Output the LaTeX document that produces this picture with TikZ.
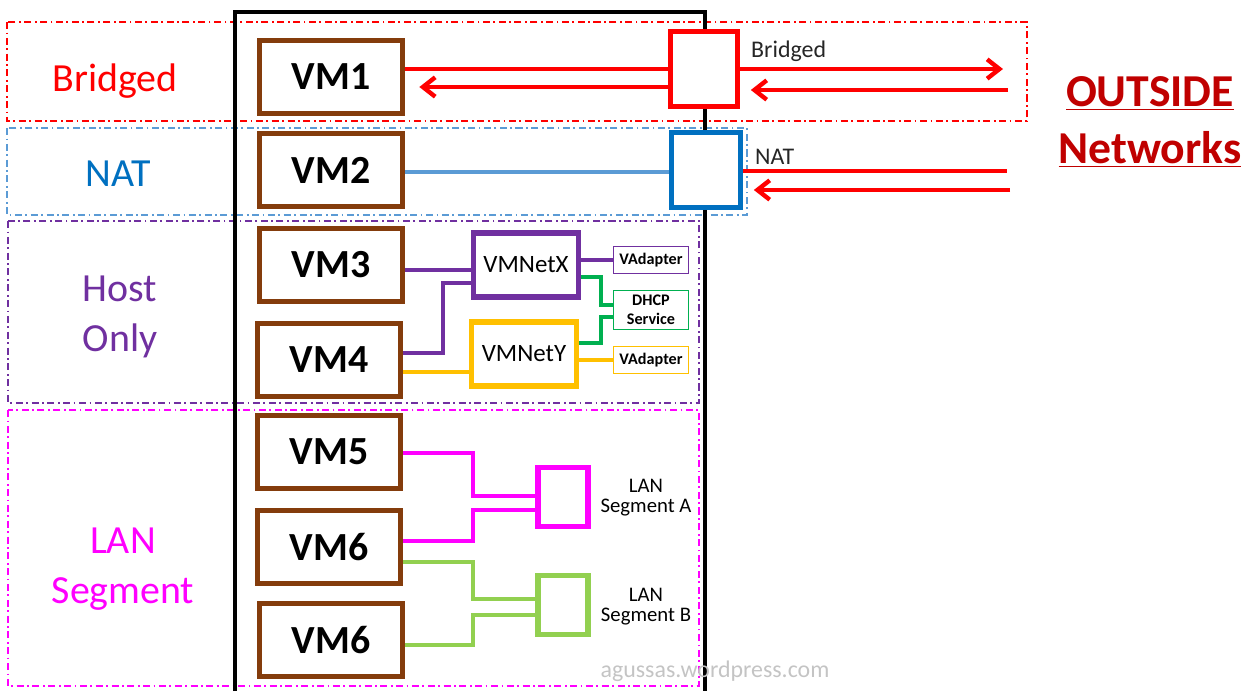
\documentclass[tikz,border=0pt]{standalone}
\usepackage{fontspec}
\setmainfont{Carlito}
\usetikzlibrary{arrows.meta}
\definecolor{vmbrown}{HTML}{843C0C}
\definecolor{natblue}{HTML}{0070C0}
\definecolor{natline}{HTML}{5B9BD5}
\definecolor{hostpurple}{HTML}{7030A0}
\definecolor{hostyellow}{HTML}{FFC000}
\definecolor{dhcpgreen}{HTML}{00B050}
\definecolor{lanmagenta}{HTML}{FF00FF}
\definecolor{langreen}{HTML}{92D050}
\definecolor{darkred}{HTML}{C00000}
\definecolor{mark}{HTML}{C4C4C4}
\begin{document}
\begin{tikzpicture}[x=0.02cm,y=-0.02cm,>={Straight Barb[length=7pt,width=11pt]}]
	\tikzstyle{zone} = [dash pattern=on 4pt off 2pt on 1pt off 2pt, line width=0.6pt]
	\tikzstyle{modetext} = [align=center, font=\fontsize{22.7}{28.4}\selectfont]
	\tikzstyle{vm} = [draw=vmbrown, fill=white, line width=3.2pt, minimum width=2.86cm, minimum height=1.46cm, inner sep=0pt, font=\fontsize{22.7}{24}\selectfont\bfseries]
	\tikzstyle{switch} = [draw, fill=white, line width=3.2pt, inner sep=0pt]
	\tikzstyle{net} = [switch, minimum width=2.1cm, minimum height=1.28cm, font=\fontsize{14.2}{16}\selectfont]
	\tikzstyle{small} = [draw, fill=white, line width=1.1pt, inner sep=0pt, minimum width=1.5cm, align=center, font=\fontsize{9.2}{10.8}\selectfont\bfseries]
	\tikzstyle{wire} = [line width=2.3pt]
	\tikzstyle{ext} = [red, line width=2.5pt]
	\tikzstyle{segtext} = [align=center, font=\fontsize{11.8}{11.4}\selectfont]
	\useasboundingbox (0,0) rectangle (1245,691);
	\draw[zone, red] (7,22) rectangle (1027,121);
	\draw[zone, natline] (7,128) rectangle (747,215);
	\draw[zone, hostpurple] (8,221) rectangle (699,403);
	\draw[zone, lanmagenta] (8,410) rectangle (699,686);
	\draw[line width=2.8pt] (235,691) -- (235,12) -- (705,12) -- (705,691);
	\node[modetext, red] (mBridged) at (115,81) {Bridged};
	\node[modetext, natblue] (mNat) at (118,174) {NAT};
	\node[modetext, hostpurple] (mHost) at (120,317) {Host\\Only};
	\node[modetext, lanmagenta] (mLan) at (123,569) {LAN\\Segment};
	\node[vm] (vm1) at (331,77) {VM1};
	\node[vm] (vm2) at (331,170) {VM2};
	\node[vm] (vm3) at (331,265) {VM3};
	\node[vm] (vm4) at (329,360) {VM4};
	\node[vm] (vm5) at (329,452) {VM5};
	\node[vm] (vm6) at (329,547) {VM6};
	\node[vm] (vm7) at (331,640) {VM6};
	\node[switch, draw=red, minimum width=1.34cm, minimum height=1.5cm] (bridge) at (704,69) {};
	\node[switch, draw=natblue, minimum width=1.38cm, minimum height=1.5cm] (nat) at (706,170) {};
	\node[anchor=west, font=\fontsize{13.6}{15}\selectfont, text=black!85] (tBridged) at (745,51) {Bridged};
	\node[anchor=west, font=\fontsize{13.6}{15}\selectfont, text=black!85] (tNat) at (749,157) {NAT};
	\node[align=center, text=darkred, font=\fontsize{26}{32}\selectfont\bfseries] (outside) at (1150,122) {\underline{OUTSIDE}\\\underline{Networks}};
	\coordinate (bOut) at (1003,69);
	\coordinate (bIn) at (1008,90);
	\coordinate (nOut) at (1007,171);
	\coordinate (nIn) at (1010,190);
	\draw[ext] (bridge.west) -- (bridge.west -| vm1.east);
	\draw[ext,->,shorten >=8pt] ([yshift=-0.36cm]bridge.west) -- ([yshift=-0.36cm]bridge.west -| vm1.east);
	\draw[ext,->] (bridge.east) -- (bOut);
	\draw[ext,->,shorten >=6pt] (bIn) -- (bIn -| bridge.east);
	\draw[ext] (nat.east |- nOut) -- (nOut);
	\draw[ext,->,shorten >=6pt] (nIn) -- (nIn -| nat.east);
	\draw[wire, natline] ([yshift=-0.04cm]vm2.east) -- ([yshift=-0.04cm]nat.west);
	\node[net, draw=hostpurple] (vmx) at (526,265) {VMNetX};
	\node[net, draw=hostyellow] (vmy) at (524,354) {VMNetY};
	\node[small, draw=hostpurple, minimum height=0.54cm] (vax) at (651,260) {VAdapter};
	\node[small, draw=dhcpgreen, minimum height=0.78cm] (dhcp) at (651,310) {DHCP\\Service};
	\node[small, draw=hostyellow, minimum height=0.54cm] (vay) at (651,360) {VAdapter};
	\draw[wire, hostpurple] ([yshift=-0.1cm]vm3.east) -- ([yshift=-0.1cm]vm3.east -| vmx.west);
	\draw[wire, hostpurple] ([yshift=0.14cm]vm4.east) -- ++(40,0) |- ([yshift=-0.36cm]vmx.west);
	\draw[wire, hostyellow] ([yshift=-0.24cm]vm4.east) -- ([yshift=-0.24cm]vm4.east -| vmy.west);
	\draw[wire, hostpurple] (vax.west) -- (vax.west -| vmx.east);
	\draw[wire, dhcpgreen] ([yshift=-0.24cm]vmx.east) -- ++(20,0) |- ([yshift=0.1cm]dhcp.west);
	\draw[wire, dhcpgreen] ([yshift=0.22cm]vmy.east) -- ++(22,0) |- ([yshift=-0.14cm]dhcp.west);
	\draw[wire, hostyellow] (vay.west) -- (vay.west -| vmy.east);
	\node[switch, draw=lanmagenta, minimum width=1cm, minimum height=1.18cm] (lanA) at (563,497) {};
	\node[switch, draw=langreen, minimum width=1cm, minimum height=1.18cm] (lanB) at (563,605) {};
	\node[segtext] (tLanA) at (646,498) {LAN\\Segment A};
	\node[segtext] (tLanB) at (646,607) {LAN\\Segment B};
	\draw[wire, lanmagenta] ([yshift=-0.02cm]vm5.east) -- ++(70,0) |- ([yshift=0.02cm]lanA.west);
	\draw[wire, lanmagenta] ([yshift=0.12cm]vm6.east) -- ++(70,0) |- ([yshift=-0.26cm]lanA.west);
	\draw[wire, langreen] ([yshift=-0.3cm]vm6.east) -- ++(70,0) |- ([yshift=0.12cm]lanB.west);
	\draw[wire, langreen] ([yshift=-0.1cm]vm7.east) -- ++(68,0) |- ([yshift=-0.2cm]lanB.west);
	\node[text=mark, font=\fontsize{13.6}{15}\selectfont] (wmark) at (715,671) {agussas.wordpress.com};
\end{tikzpicture}
\end{document}
